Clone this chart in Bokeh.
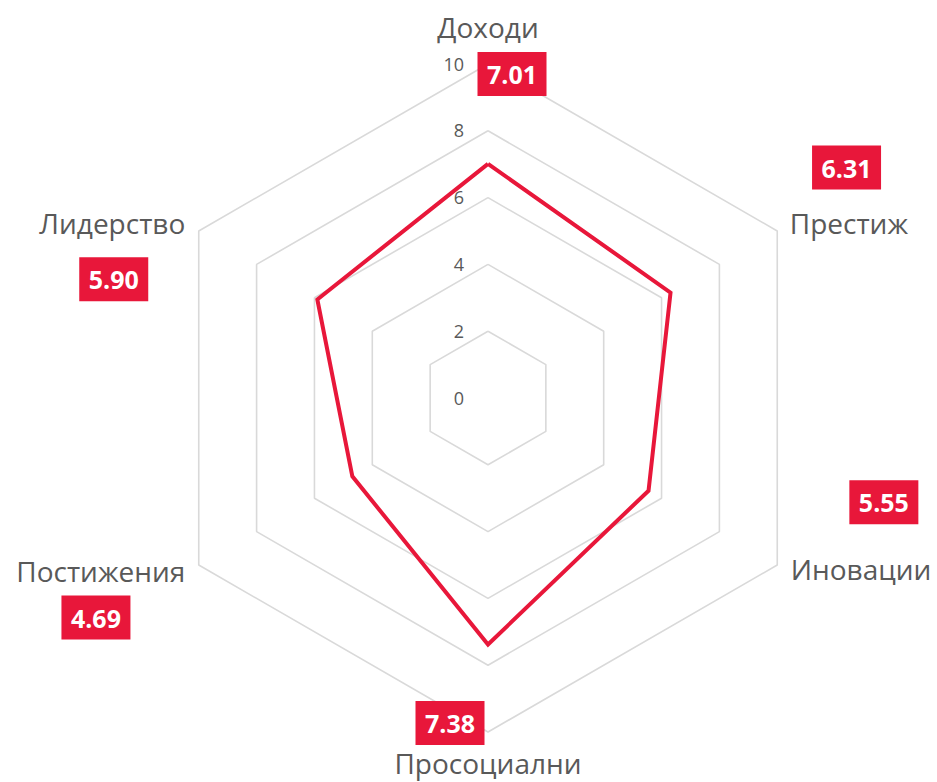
import math
from bokeh.plotting import figure
from bokeh.models import ColumnDataSource
from bokeh.core.properties import value
from bokeh.embed import file_html
from bokeh.resources import INLINE

# ---- data ----
categories = ["Доходи", "Престиж", "Иновации", "Просоциални", "Постижения", "Лидерство"]
values = [7.01, 6.31, 5.55, 7.38, 4.69, 5.90]
grid_levels = [2, 4, 6, 8, 10]
tick_labels = ["0", "2", "4", "6", "8", "10"]
tick_values = [0, 2, 4, 6, 8, 10]

# ---- layout / style ----
W, H = 937, 782
CX, CY = 487.5, 397.5      # pixel centre
S = 33.4                   # pixels per unit
RMAX = 10
RED = "#E8173A"
GRID = "#D9D9D9"
TXT = "#595959"
FONT = "Open Sans"

p = figure(width=W, height=H, output_backend="svg", toolbar_location=None,
           x_range=(-CX / S, (W - CX) / S), y_range=(-(H - CY) / S, CY / S),
           min_border=0, min_border_left=0, min_border_right=0,
           min_border_top=0, min_border_bottom=0)
p.axis.visible = False
p.grid.visible = False
p.outline_line_color = None
p.background_fill_color = "white"
p.border_fill_color = "white"

n = len(categories)
angles = [math.pi / 2 - 2 * math.pi * i / n for i in range(n)]

# grid hexagons
gx, gy = [], []
for lv in grid_levels:
    xs = [lv * math.cos(a) for a in angles] + [lv * math.cos(angles[0])]
    ys = [lv * math.sin(a) for a in angles] + [lv * math.sin(angles[0])]
    gx.append(xs)
    gy.append(ys)
p.multi_line(gx, gy, line_color=GRID, line_width=1.6)

# tick labels
p.text(x=[0] * len(tick_values), y=tick_values, text=tick_labels,
       x_offset=-24, text_align="right", text_baseline="middle",
       text_font=value(FONT), text_font_size="18px", text_color=TXT)

# data polygon
dx = [v * math.cos(a) for v, a in zip(values, angles)]
dy = [v * math.sin(a) for v, a in zip(values, angles)]
p.line(dx + [dx[0]], dy + [dy[0]], line_color=RED, line_width=4, line_join="miter")

# category labels (anchored at outer vertices)
vx = [RMAX * math.cos(a) for a in angles]
vy = [RMAX * math.sin(a) for a in angles]
lab_align = ["center", "left", "left", "center", "right", "right"]
lab_off = [(0, -37), (12.5, -8.5), (13.5, 4), (0, 31), (-13.5, 5.5), (-13.5, -8.5)]
p.text(x=vx, y=vy, text=categories,
       x_offset=[o[0] for o in lab_off], y_offset=[o[1] for o in lab_off],
       text_align=lab_align, text_baseline="middle",
       text_font=value(FONT), text_font_size="28px", text_color=TXT)

# data label boxes
box_off = [(24, 10), (69.3, -63.5), (106.6, -62.8), (-38, -9), (-102.8, 52.5), (-85, 48.2)]
bx = [x + o[0] / S for x, o in zip(vx, box_off)]
by = [y - o[1] / S for y, o in zip(vy, box_off)]
src = ColumnDataSource(dict(x=bx, y=by, t=["%.2f" % v for v in values]))
p.rect(x="x", y="y", width=69, height=44, width_units="screen", height_units="screen",
       fill_color=RED, line_color=None, source=src)
p.text(x="x", y="y", text="t", source=src, text_align="center", text_baseline="middle",
       text_font=value(FONT), text_font_size="25px", text_font_style="bold",
       text_color="white", y_offset=1)

open("out.html", "w").write(file_html(p, INLINE))
